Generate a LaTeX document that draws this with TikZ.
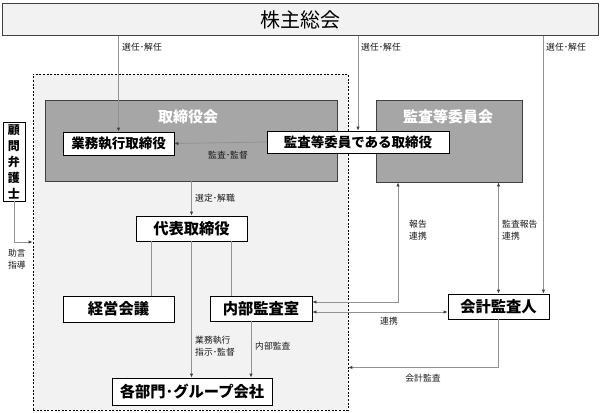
\documentclass[tikz,border=0pt]{standalone}
\usepackage{fontspec}
\setmainfont{Noto Sans CJK JP}
\usetikzlibrary{arrows.meta}
\definecolor{bgl}{HTML}{F2F2F2}
\definecolor{darkbox}{HTML}{A6A6A6}
\definecolor{linegray}{HTML}{929292}
\definecolor{edgec}{HTML}{404040}
\begin{document}
\begin{tikzpicture}[x=1pt,y=-1pt,
  box/.style={draw=black, line width=0.8pt, fill=white, inner sep=0pt, font=\fontsize{15.3}{18}\selectfont\bfseries},
  sbox/.style={box, font=\fontsize{13.5}{16}\selectfont\bfseries},
  darkb/.style={draw=edgec, line width=0.9pt, fill=darkbox, inner sep=0pt},
  ttl/.style={text=white, inner sep=0pt, font=\fontsize{15}{18}\selectfont\bfseries},
  conn/.style={draw=linegray, line width=0.8pt},
  arr/.style={conn, -{Latex[length=4pt,width=3.5pt,color=edgec]}},
  darr/.style={conn, {Latex[length=4pt,width=3.5pt,color=edgec]}-{Latex[length=4pt,width=3.5pt,color=edgec]}},
  lab/.style={font=\fontsize{8.8}{12}\selectfont, text=black!90, inner sep=0pt, align=left}
]
\useasboundingbox (0,0) rectangle (601,412);
\fill[white] (0,0) rectangle (601,412);

% outer dashed region
\node[draw=black, dash pattern=on 2pt off 1.6pt, line width=0.7pt, fill=bgl, minimum width=315pt, minimum height=336pt, inner sep=0pt] (inner) at (190.5,242) {};

% shareholders meeting
\node[fill=bgl, draw=edgec, line width=1pt, minimum width=596pt, minimum height=32pt, inner sep=0pt, font=\fontsize{20}{24}\selectfont] (sh) at (300,19.5) {株主総会};

% boards
\node[darkb, minimum width=292pt, minimum height=81pt] (bod) at (191,140.5) {};
\node[ttl] (bodt) at (188,117) {取締役会};
\node[darkb, minimum width=146pt, minimum height=82pt] (acb) at (449,141) {};
\node[ttl] (acbt) at (448,117) {監査等委員会};

% nodes
\node[sbox, minimum width=111pt, minimum height=23pt] (exec) at (118.5,143.5) {業務執行取締役};
\node[sbox, minimum width=182pt, minimum height=22pt] (acd) at (358,142) {監査等委員である取締役};
\node[box, minimum width=111pt, minimum height=25pt] (rep) at (191.5,228.5) {代表取締役};
\node[box, minimum width=111pt, minimum height=26pt] (mgmt) at (118.5,309) {経営会議};
\node[box, minimum width=102pt, minimum height=25pt] (ia) at (261,308.5) {内部監査室};
\node[box, minimum width=160pt, minimum height=27pt] (dept) at (192,391.5) {各部門･グループ会社};
\node[box, minimum width=101pt, minimum height=25pt] (aud) at (498.5,306.5) {会計監査人};
\node[draw=black, line width=0.8pt, fill=white, minimum width=22pt, minimum height=79pt, inner sep=0pt, align=center, font=\fontsize{12}{16}\selectfont\bfseries] (adv) at (14,161.5) {顧\\問\\弁\\護\\士};

% connectors from shareholders meeting
\draw[arr] (exec.north |- sh.south) -- (exec.north);
\draw[arr] (acd.north |- sh.south) -- (acd.north);
\coordinate (audtop) at ([xshift=-6pt]aud.north east);
\draw[arr] (audtop |- sh.south) -- (audtop);
\node[lab, anchor=west] (l1) at (122,47.5) {選任･解任};
\node[lab, anchor=west] (l2) at (361,47.5) {選任･解任};
\node[lab, anchor=west] (l3) at (546,47.5) {選任･解任};

% audit & supervise
\draw[arr] (acd.west) -- (exec.east);
\node[lab] (l4) at (228,155) {監査･監督};

% selection
\draw[arr] (rep.north |- bod.south) -- (rep.north);
\node[lab, anchor=west] (l5) at (195,198) {選定･解職};

% from representative director
\coordinate (rl) at ([xshift=-40pt]rep.south);
\coordinate (rr) at ([xshift=40pt]rep.south);
\draw[conn] (rl) -- (rl |- mgmt.north);
\draw[conn] (rr) -- (rr |- ia.north);
\draw[arr] (rep.south) -- (rep.south |- dept.north);
\node[lab, anchor=north west] (l6) at (195,336) {業務執行\\指示･監督};

% internal audit
\coordinate (ib) at ([xshift=-10pt]ia.south);
\draw[arr] (ib) -- (ib |- dept.north);
\node[lab, anchor=west] (l7) at (255,346) {内部監査};

% audit committee <-> internal audit
\coordinate (p1) at ([yshift=6.5pt]ia.east);
\coordinate (acbl) at ([xshift=-51pt]acb.south);
\draw[darr] (acbl) |- (p1);
\node[lab, anchor=north west] (l8) at (409,220) {報告\\連携};

% audit committee <-> accounting auditor
\draw[darr] (aud.north |- acb.south) -- (aud.north);
\node[lab, anchor=north west] (l9) at (502,220) {監査報告\\連携};

% internal audit <-> accounting auditor
\coordinate (p2) at ([yshift=-3.5pt]ia.east);
\draw[darr] (p2) -- (p2 -| aud.west);
\node[lab] (l10) at (389,321) {連携};

% accounting audit
\coordinate (a3) at ([yshift=-48pt]aud.south);
\draw[arr] (aud.south) -- (a3) -- (a3 -| inner.east);
\node[lab] (l11) at (423,378.5) {会計監査};

% legal advisor
\draw[arr] (adv.south) |- (inner.west);
\node[lab, anchor=north, align=center] (l12) at (17,249) {助言\\指導};
\end{tikzpicture}
\end{document}
